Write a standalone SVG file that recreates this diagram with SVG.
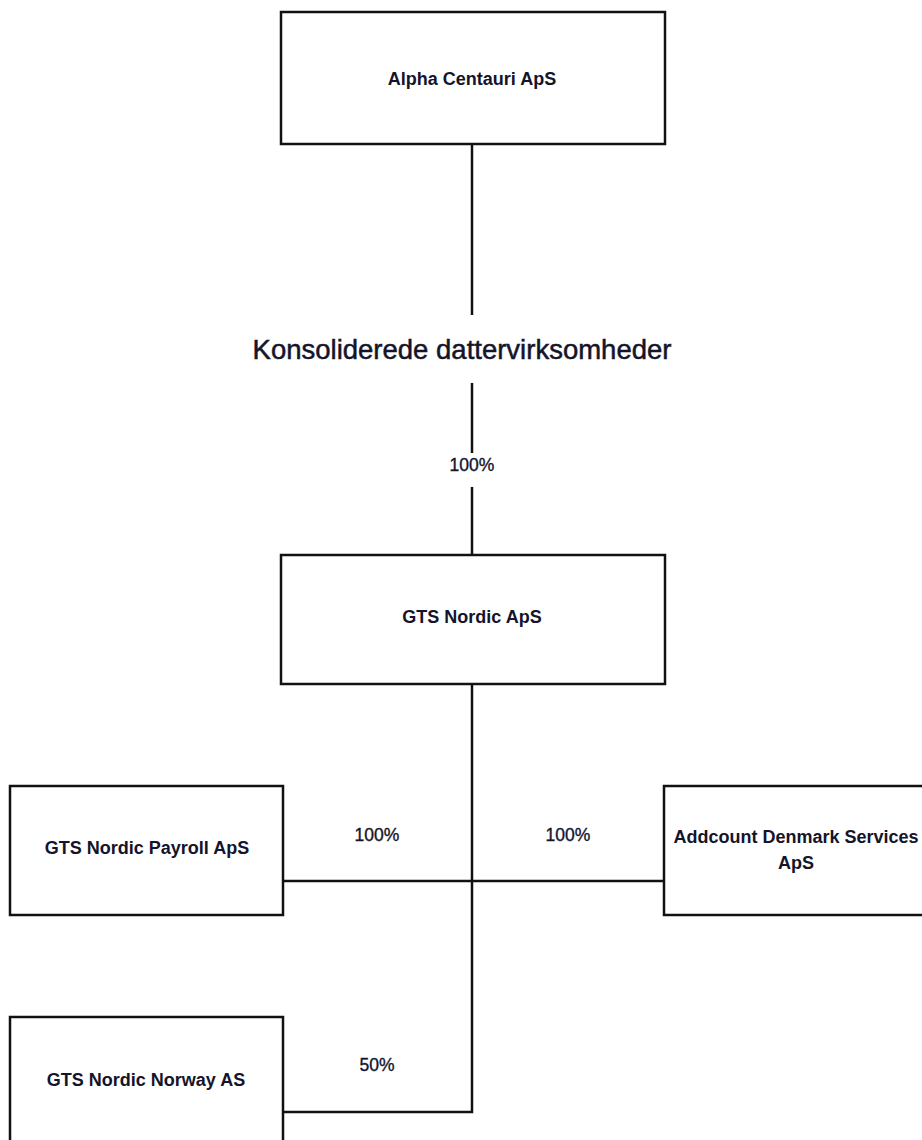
<svg xmlns="http://www.w3.org/2000/svg" width="922" height="1140" viewBox="0 0 922 1140">
<style>
.box{fill:#fff;stroke:#111;stroke-width:2.5}
.ln{fill:none;stroke:#111;stroke-width:2.5}
.nl{font-family:"Liberation Sans",Arial,sans-serif;font-weight:bold;font-size:18px;fill:#14142a;text-anchor:middle}
.pl{font-family:"Liberation Sans",Arial,sans-serif;font-size:17.5px;fill:#14142a;stroke:#14142a;stroke-width:0.35;text-anchor:middle}
.hd{font-family:"Liberation Sans",Arial,sans-serif;font-size:27.5px;fill:#14142a;stroke:#14142a;stroke-width:0.5;text-anchor:middle}
</style>
<rect width="922" height="1140" fill="#fff"/>
<g id="connectors">
<line class="ln" x1="472" y1="144" x2="472" y2="315"/>
<line class="ln" x1="472" y1="383" x2="472" y2="453"/>
<line class="ln" x1="472" y1="487" x2="472" y2="555"/>
<polyline class="ln" points="472,684 472,1112 283,1112"/>
<line class="ln" x1="283" y1="881" x2="664" y2="881"/>
</g>
<g id="alpha-centauri">
<rect class="box" x="281" y="12" width="384" height="132"/>
<text class="nl" x="472" y="85">Alpha Centauri ApS</text>
</g>
<g id="heading">
<text class="hd" x="462" y="359">Konsoliderede dattervirksomheder</text>
</g>
<g id="label-100-top">
<text class="pl" x="472" y="471">100%</text>
</g>
<g id="gts-nordic">
<rect class="box" x="281" y="555" width="384" height="129"/>
<text class="nl" x="472" y="623">GTS Nordic ApS</text>
</g>
<g id="gts-payroll">
<rect class="box" x="10" y="786" width="273" height="129"/>
<text class="nl" x="147" y="854">GTS Nordic Payroll ApS</text>
</g>
<g id="label-100-left">
<text class="pl" x="377" y="841">100%</text>
</g>
<g id="label-100-right">
<text class="pl" x="568" y="841">100%</text>
</g>
<g id="addcount">
<rect class="box" x="664" y="786" width="264" height="129"/>
<text class="nl" x="796" y="843">Addcount Denmark Services</text>
<text class="nl" x="796" y="869">ApS</text>
</g>
<g id="gts-norway">
<rect class="box" x="10" y="1017" width="273" height="140"/>
<text class="nl" x="146" y="1086">GTS Nordic Norway AS</text>
</g>
<g id="label-50">
<text class="pl" x="377" y="1071">50%</text>
</g>
</svg>
